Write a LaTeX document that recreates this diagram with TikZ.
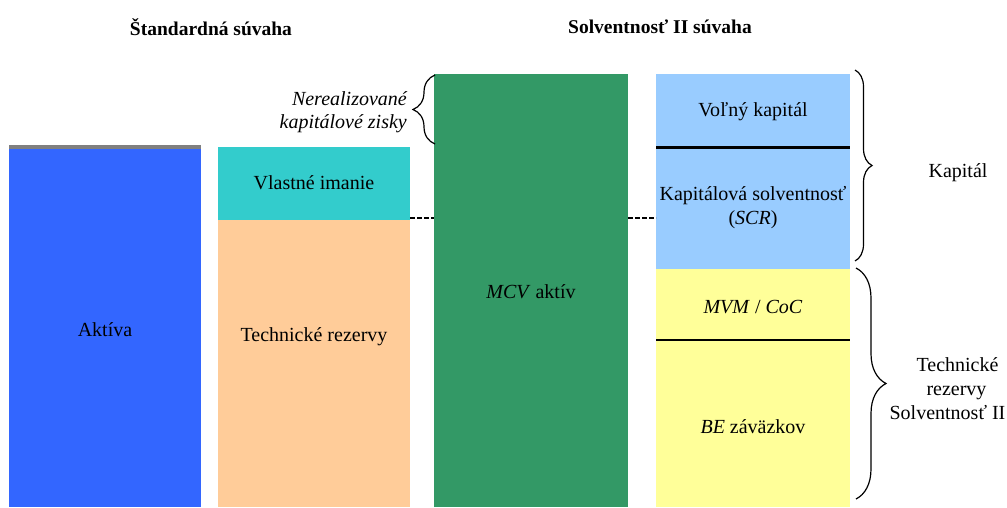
\documentclass[tikz,border=0pt]{standalone}
\usepackage{fontspec}
\setmainfont{Liberation Serif}
\usetikzlibrary{decorations.pathreplacing}
\definecolor{cAkt}{HTML}{3366FF}
\definecolor{cTop}{HTML}{808080}
\definecolor{cVI}{HTML}{33CCCC}
\definecolor{cTR}{HTML}{FFCC99}
\definecolor{cMCV}{HTML}{339966}
\definecolor{cKap}{HTML}{99CCFF}
\definecolor{cRez}{HTML}{FFFF99}
\begin{document}
\begin{tikzpicture}[x=1pt,y=-1pt,
  box/.style={inner sep=0pt, outer sep=0pt, anchor=north west, draw=none},
  txt/.style={font=\fontsize{20}{24}\selectfont, align=center, inner sep=0pt},
  ttl/.style={font=\bfseries\fontsize{19.5}{23}\selectfont, inner sep=0pt},
  brc/.style={decorate, decoration={brace, amplitude=#1}, line width=1.2pt},
  sepline/.style={line width=#1},
  dsh/.style={dash pattern=on 5pt off 2pt, line width=1.6pt}]
\useasboundingbox (0,0) rectangle (1007,507);
% titles
\node[ttl] (t1) at (211,27) {Štandardná súvaha};
\node[ttl] (t2) at (660,27) {Solventnosť II súvaha};
% standard balance sheet
\node[box, fill=cTop, minimum width=192pt, minimum height=4pt] (akttop) at (9,145) {};
\node[box, fill=cAkt, minimum width=192pt, minimum height=358pt] (akt) at (9,149) {};
\node[box, fill=cVI, minimum width=192pt, minimum height=73pt] (vi) at (218,147) {};
\node[box, fill=cTR, minimum width=192pt, minimum height=287pt] (tr) at (218,220) {};
% Solvency II
\node[box, fill=cMCV, minimum width=194pt, minimum height=433pt] (mcv) at (434,74) {};
\node[box, fill=cKap, minimum width=194pt, minimum height=73pt] (vol) at (656,74) {};
\node[box, fill=cKap, minimum width=194pt, minimum height=122pt] (scr) at (656,147) {};
\node[box, fill=cRez, minimum width=194pt, minimum height=71pt] (mvm) at (656,269) {};
\node[box, fill=cRez, minimum width=194pt, minimum height=167pt] (be) at (656,340) {};
% separator lines
\draw[sepline=3pt] (vol.south west) -- (vol.south east);
\draw[sepline=2pt] (mvm.south west) -- (mvm.south east);
% dashed connectors
\coordinate (d1) at ([yshift=2pt]vi.south east);
\draw[dsh] (d1) -- (mcv.west |- d1);
\draw[dsh] (mcv.east |- d1) -- (scr.west |- d1);
% texts
\node[txt] (lakt) at (105,330) {Aktíva};
\node[txt] (lvi) at (314,183) {Vlastné imanie};
\node[txt] (ltr) at (314,337) {Technické rezervy};
\node[txt] (lmcv) at (531,292) {\textit{MCV} aktív};
\node[txt] (lvol) at (753,112) {Voľný kapitál};
\node[txt] (lscr) at (753,208) {Kapitálová solventnosť\\(\textit{SCR})};
\node[txt] (lmvm) at (753,307) {\textit{MVM} / \textit{CoC}};
\node[txt] (lbe) at (753,427) {\textit{BE} záväzkov};
\node[txt] (lkap) at (958,173) {Kapitál};
\node[txt] (lrez) at (947.5,389) {\hspace*{20pt}Technické\\\hspace*{18pt}rezervy\\Solventnosť II};
\node[txt, align=right, anchor=east, font=\itshape\fontsize{20}{23}\selectfont] (lner) at (407,112) {Nerealizované\\kapitálové zisky};
% braces
\coordinate (b1a) at (435,144);
\coordinate (b1b) at (435,75);
\draw[brc=22pt] (b1a) -- (b1b);
\coordinate (b2a) at (855,70);
\coordinate (b2b) at (855,261);
\draw[brc=17pt] (b2a) -- (b2b);
\coordinate (b3a) at (856,268);
\coordinate (b3b) at (856,499);
\draw[brc=30pt] (b3a) -- (b3b);
\end{tikzpicture}
\end{document}
